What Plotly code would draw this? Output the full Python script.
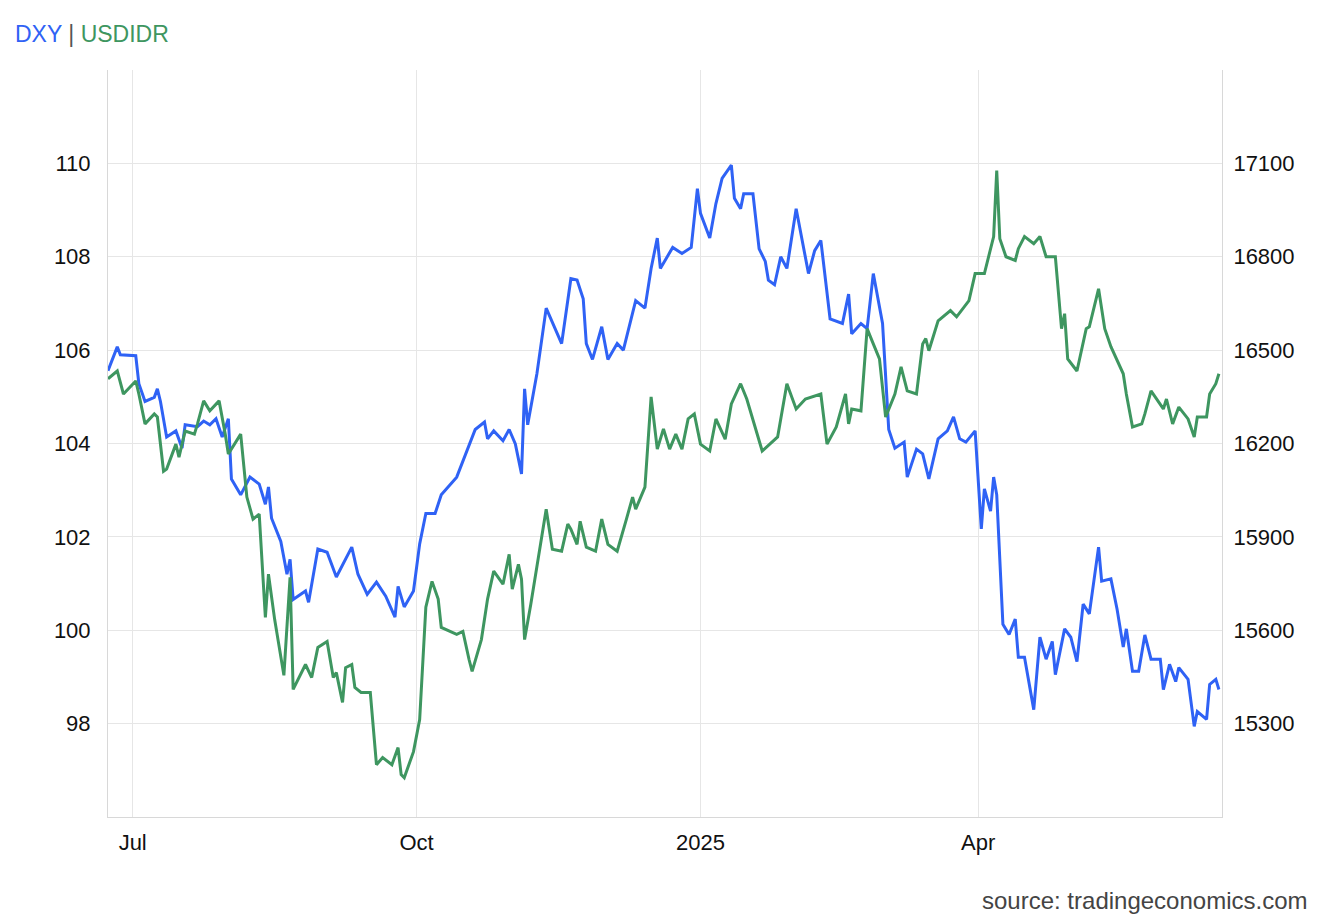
import plotly.graph_objects as go

# DXY (left axis)
dxy_dates = [
    "2024-06-23", "2024-06-26", "2024-06-27", "2024-07-02", "2024-07-03", "2024-07-05", "2024-07-08",
    "2024-07-09", "2024-07-10", "2024-07-12", "2024-07-15", "2024-07-17", "2024-07-18", "2024-07-22",
    "2024-07-24", "2024-07-26", "2024-07-28", "2024-07-30", "2024-08-01", "2024-08-02", "2024-08-05",
    "2024-08-08", "2024-08-11", "2024-08-13", "2024-08-14", "2024-08-15", "2024-08-18", "2024-08-20",
    "2024-08-21", "2024-08-22", "2024-08-26", "2024-08-27", "2024-08-30", "2024-09-02", "2024-09-05",
    "2024-09-10", "2024-09-12", "2024-09-15", "2024-09-18", "2024-09-21", "2024-09-24", "2024-09-25",
    "2024-09-27", "2024-09-30", "2024-10-02", "2024-10-04", "2024-10-07", "2024-10-09", "2024-10-14",
    "2024-10-17", "2024-10-20", "2024-10-23", "2024-10-24", "2024-10-26", "2024-10-29", "2024-10-31",
    "2024-11-02", "2024-11-04", "2024-11-05", "2024-11-06", "2024-11-09", "2024-11-12", "2024-11-17",
    "2024-11-20", "2024-11-22", "2024-11-24", "2024-11-25", "2024-11-27", "2024-11-30", "2024-12-02",
    "2024-12-05", "2024-12-07", "2024-12-11", "2024-12-14", "2024-12-16", "2024-12-18", "2024-12-19",
    "2024-12-23", "2024-12-26", "2024-12-29", "2024-12-31", "2025-01-01", "2025-01-04", "2025-01-06",
    "2025-01-08", "2025-01-11", "2025-01-12", "2025-01-14", "2025-01-15", "2025-01-18", "2025-01-20",
    "2025-01-22", "2025-01-23", "2025-01-25", "2025-01-27", "2025-01-29", "2025-02-01", "2025-02-05",
    "2025-02-07", "2025-02-09", "2025-02-12", "2025-02-16", "2025-02-18", "2025-02-19", "2025-02-22",
    "2025-02-24", "2025-02-26", "2025-03-01", "2025-03-03", "2025-03-05", "2025-03-08", "2025-03-09",
    "2025-03-12", "2025-03-14", "2025-03-16", "2025-03-19", "2025-03-22", "2025-03-24", "2025-03-26",
    "2025-03-28", "2025-03-31", "2025-04-02", "2025-04-03", "2025-04-05", "2025-04-06", "2025-04-07",
    "2025-04-09", "2025-04-11", "2025-04-13", "2025-04-14", "2025-04-16", "2025-04-19", "2025-04-21",
    "2025-04-23", "2025-04-25", "2025-04-26", "2025-04-29", "2025-05-01", "2025-05-03", "2025-05-05",
    "2025-05-07", "2025-05-10", "2025-05-11", "2025-05-14", "2025-05-16", "2025-05-18", "2025-05-19",
    "2025-05-21", "2025-05-23", "2025-05-25", "2025-05-27", "2025-05-30", "2025-05-31", "2025-06-02",
    "2025-06-04", "2025-06-05", "2025-06-08", "2025-06-10", "2025-06-11", "2025-06-14", "2025-06-15",
    "2025-06-17", "2025-06-18",
]
dxy_values = [
    105.56, 106.07, 105.9, 105.88, 105.28, 104.9, 104.99, 105.17, 104.9, 104.14, 104.27, 103.9, 104.4,
    104.36, 104.48, 104.4, 104.53, 104.14, 104.53, 103.24, 102.9, 103.28, 103.13, 102.7, 103.07, 102.4,
    101.9, 101.2, 101.52, 100.66, 100.84, 100.6, 101.74, 101.67, 101.14, 101.78, 101.2, 100.77, 101.03,
    100.73, 100.28, 100.94, 100.5, 100.84, 101.85, 102.5, 102.5, 102.9, 103.28, 103.78, 104.3, 104.46,
    104.1, 104.27, 104.06, 104.3, 103.99, 103.35, 105.17, 104.4, 105.5, 106.9, 106.14, 107.53, 107.5,
    107.1, 106.14, 105.8, 106.5, 105.8, 106.14, 106.0, 107.06, 106.9, 107.75, 108.4, 107.75, 108.2,
    108.07, 108.2, 109.46, 108.93, 108.4, 109.14, 109.68, 109.96, 109.25, 109.03, 109.35, 109.35, 108.17,
    107.9, 107.5, 107.4, 108.0, 107.75, 109.03, 107.64, 108.13, 108.35, 106.67, 106.57, 107.2, 106.35,
    106.57, 106.46, 107.64, 106.57, 104.3, 103.9, 104.03, 103.28, 103.88, 103.78, 103.24, 104.1, 104.27,
    104.57, 104.1, 104.03, 104.27, 102.17, 103.03, 102.55, 103.28, 102.9, 100.13, 99.91, 100.24, 99.42,
    99.42, 98.3, 99.85, 99.38, 99.76, 99.05, 100.03, 99.85, 99.33, 100.56, 100.35, 101.78, 101.05, 101.1,
    100.45, 99.64, 100.03, 99.12, 99.12, 99.9, 99.38, 99.38, 98.73, 99.27, 98.9, 99.2, 98.95, 97.94,
    98.26, 98.09, 98.84, 98.95, 98.73,
]

# USDIDR (right axis)
idr_dates = [
    "2024-06-23", "2024-06-26", "2024-06-28", "2024-07-02", "2024-07-03", "2024-07-05", "2024-07-08",
    "2024-07-09", "2024-07-11", "2024-07-12", "2024-07-15", "2024-07-16", "2024-07-18", "2024-07-21",
    "2024-07-22", "2024-07-24", "2024-07-26", "2024-07-29", "2024-07-31", "2024-08-01", "2024-08-05",
    "2024-08-07", "2024-08-09", "2024-08-11", "2024-08-13", "2024-08-14", "2024-08-16", "2024-08-19",
    "2024-08-21", "2024-08-22", "2024-08-26", "2024-08-28", "2024-08-30", "2024-09-02", "2024-09-04",
    "2024-09-05", "2024-09-07", "2024-09-08", "2024-09-10", "2024-09-11", "2024-09-13", "2024-09-16",
    "2024-09-18", "2024-09-20", "2024-09-23", "2024-09-25", "2024-09-26", "2024-09-27", "2024-09-30",
    "2024-10-02", "2024-10-04", "2024-10-06", "2024-10-08", "2024-10-09", "2024-10-14", "2024-10-16",
    "2024-10-18", "2024-10-19", "2024-10-22", "2024-10-24", "2024-10-26", "2024-10-29", "2024-10-31",
    "2024-11-01", "2024-11-03", "2024-11-04", "2024-11-05", "2024-11-07", "2024-11-12", "2024-11-14",
    "2024-11-17", "2024-11-19", "2024-11-20", "2024-11-22", "2024-11-23", "2024-11-25", "2024-11-28",
    "2024-11-30", "2024-12-02", "2024-12-05", "2024-12-08", "2024-12-10", "2024-12-11", "2024-12-13",
    "2024-12-14", "2024-12-16", "2024-12-18", "2024-12-20", "2024-12-22", "2024-12-24", "2024-12-26",
    "2024-12-28", "2024-12-30", "2025-01-01", "2025-01-04", "2025-01-06", "2025-01-09", "2025-01-11",
    "2025-01-14", "2025-01-16", "2025-01-18", "2025-01-21", "2025-01-26", "2025-01-29", "2025-02-01",
    "2025-02-04", "2025-02-09", "2025-02-11", "2025-02-14", "2025-02-17", "2025-02-18", "2025-02-19",
    "2025-02-22", "2025-02-24", "2025-02-26", "2025-02-28", "2025-03-02", "2025-03-05", "2025-03-07",
    "2025-03-09", "2025-03-12", "2025-03-14", "2025-03-15", "2025-03-16", "2025-03-19", "2025-03-23",
    "2025-03-25", "2025-03-29", "2025-03-31", "2025-04-03", "2025-04-06", "2025-04-07", "2025-04-08",
    "2025-04-10", "2025-04-13", "2025-04-14", "2025-04-16", "2025-04-19", "2025-04-21", "2025-04-23",
    "2025-04-26", "2025-04-28", "2025-04-29", "2025-04-30", "2025-05-03", "2025-05-06", "2025-05-07",
    "2025-05-10", "2025-05-12", "2025-05-14", "2025-05-18", "2025-05-19", "2025-05-21", "2025-05-24",
    "2025-05-25", "2025-05-27", "2025-05-31", "2025-06-01", "2025-06-03", "2025-06-05", "2025-06-08",
    "2025-06-10", "2025-06-11", "2025-06-14", "2025-06-15", "2025-06-17", "2025-06-18",
]
idr_values = [
    16408, 16433, 16359, 16401, 16359, 16263, 16295, 16285, 16111, 16118, 16198, 16156, 16240, 16230,
    16263, 16337, 16305, 16337, 16230, 16166, 16230, 16028, 15957, 15973, 15641, 15780, 15635, 15455,
    15770, 15410, 15490, 15448, 15545, 15564, 15448, 15464, 15368, 15480, 15490, 15416, 15400, 15400,
    15168, 15191, 15168, 15223, 15136, 15126, 15210, 15313, 15674, 15757, 15700, 15609, 15587, 15596,
    15506, 15468, 15570, 15700, 15790, 15748, 15844, 15732, 15812, 15764, 15570, 15683, 15989, 15860,
    15854, 15941, 15925, 15876, 15950, 15867, 15854, 15957, 15876, 15854, 15957, 16028, 15989, 16037,
    16060, 16350, 16182, 16247, 16182, 16230, 16182, 16279, 16295, 16198, 16176, 16279, 16214, 16327,
    16392, 16343, 16279, 16176, 16221, 16392, 16311, 16343, 16359, 16198, 16253, 16359, 16263, 16311,
    16305, 16569, 16520, 16472, 16285, 16359, 16446, 16369, 16359, 16520, 16537, 16498, 16594, 16627,
    16607, 16659, 16746, 16746, 16865, 17077, 16858, 16800, 16788, 16826, 16865, 16842, 16865, 16800,
    16800, 16569, 16617, 16472, 16433, 16569, 16575, 16697, 16569, 16511, 16424, 16359, 16253, 16263,
    16295, 16369, 16311, 16343, 16263, 16317, 16279, 16221, 16285, 16285, 16359, 16392, 16424,
]

left_ticks = [98, 100, 102, 104, 106, 108, 110]
right_ticks = [15300, 15600, 15900, 16200, 16500, 16800, 17100]
month_ticks = ["2024-07-01", "2024-10-01", "2025-01-01", "2025-04-01"]
month_labels = ["Jul", "Oct", "2025", "Apr"]

blue = "#2f62f5"
green = "#3e9660"
family = "Liberation Sans, Arial, sans-serif"

fig = go.Figure()
fig.add_trace(go.Scatter(x=dxy_dates, y=dxy_values, name="DXY", mode="lines",
                         line=dict(color=blue, width=3)))
fig.add_trace(go.Scatter(x=idr_dates, y=idr_values, name="USDIDR", mode="lines", yaxis="y2",
                         line=dict(color=green, width=3)))

fig.update_layout(
    width=1332, height=924,
    margin=dict(l=100, r=118, t=62, b=115),
    paper_bgcolor="white", plot_bgcolor="white",
    showlegend=False, font=dict(family=family, size=22, color="#111"),
    xaxis=dict(range=["2024-06-23", "2025-06-19"], tickvals=month_ticks, ticktext=month_labels,
               showgrid=True, gridcolor="#e6e6e6", showline=True, linecolor="#d8d8d8",
               ticks="", ticklabelstandoff=6),
    yaxis=dict(range=[96, 112], tickvals=left_ticks, showgrid=True, gridcolor="#e6e6e6",
               showline=True, linecolor="#d8d8d8", ticks="", ticklabelstandoff=12, zeroline=False),
    yaxis2=dict(range=[15000, 17400], tickvals=right_ticks, ticktext=[str(v) for v in right_ticks],
                overlaying="y", side="right", showgrid=False, showline=True, linecolor="#d8d8d8",
                ticks="", ticklabelstandoff=6, zeroline=False),
    annotations=[
        dict(text=f"<span style='color:{blue}'>DXY</span> | <span style='color:{green}'>USDIDR</span>",
             xref="paper", yref="paper", x=-0.085, y=1.048, xanchor="left", yanchor="middle",
             showarrow=False, font=dict(family=family, size=23, color="#555")),
        dict(text="source: tradingeconomics.com", xref="paper", yref="paper", x=1.078, y=-0.112,
             xanchor="right", yanchor="middle", showarrow=False,
             font=dict(family=family, size=24, color="#444")),
    ],
)

fig.write_html("out.html")
